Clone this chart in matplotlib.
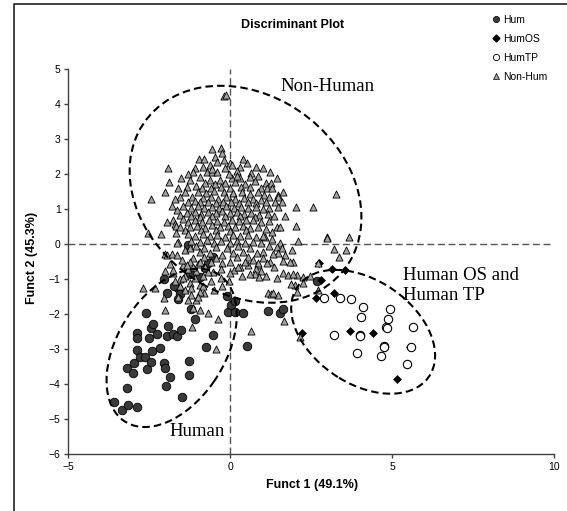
"""Discriminant plot: Hum / HumOS / HumTP / Non-Hum groups on the first two functions."""

import matplotlib.pyplot as plt
from matplotlib.lines import Line2D
from matplotlib.patches import Ellipse

plt.rcParams["font.family"] = ["Liberation Sans", "DejaVu Sans"]

# --- data (Funct 1, Funct 2) ---
hum_x = [-3.58, -3.34, -3.15, -2.89, -3.20, -3.20, -3.01, -2.98, -2.87, -2.89, -2.87, -2.61,
         -2.78, -2.62, -2.56, -2.50, -2.45, -2.39, -2.42, -2.45, -2.25, -2.17, -2.05, -1.95,
         -2.06, -2.00, -1.98, -1.86, -1.92, -1.95, -1.77, -1.64, -1.53, -1.60, -1.55, -1.60,
         -1.50, -1.30, -1.27, -1.27, -1.22, -1.10, -1.24, -0.94, -0.75, -0.78, -0.52, -0.52,
         -0.68, -0.10, -0.08, 0.03, 0.15, 0.39, 0.51, 1.15, 1.52, 1.63, 0.15, 2.68, -1.75]
hum_y = [-4.50, -4.72, -4.58, -4.64, -4.10, -3.53, -3.67, -3.38, -3.02, -2.52, -2.67, -1.97,
         -3.21, -3.21, -3.57, -2.69, -2.40, -2.28, -3.05, -3.36, -2.57, -2.96, -1.00, -1.38,
         -3.40, -3.53, -4.05, -3.78, -2.34, -2.62, -2.57, -2.62, -2.45, -1.26, -1.42, -1.56,
         -4.36, -0.03, -3.33, -3.72, -1.86, -2.12, -0.85, -0.93, -2.93, -0.69, -2.59, -0.35,
         -0.54, -1.48, -1.93, -1.73, -1.93, -1.95, -2.90, -1.91, -1.95, -1.86, -1.62, -1.05, -1.19]

humos_x = [2.73, 3.14, 3.55, 2.80, 2.64, 3.21, 2.22, 3.70, 4.41, 5.54, 5.15]
humos_y = [-0.52, -0.71, -0.73, -1.02, -1.54, -1.38, -2.52, -2.48, -2.52, -2.92, -3.86]

humtp_x = [2.88, 3.38, 3.72, 4.11, 4.04, 4.93, 4.87, 4.81, 4.83, 5.65, 3.20, 3.99, 4.01,
           4.73, 4.74, 3.91, 4.65, 5.44, 5.57]
humtp_y = [-1.53, -1.52, -1.57, -1.80, -2.08, -1.86, -2.14, -2.35, -2.38, -2.37, -2.58, -2.58,
           -2.61, -2.91, -2.94, -3.10, -3.19, -3.42, -2.92]

nonhum_x = [
    -0.19, -0.13,
    # y 2.0 - 2.8
    -0.57, -0.30, -0.97, -0.47, -0.40, -0.63, -1.91, -1.09, 0.00, 0.51, 0.30, -0.16, -1.14,
    -0.73, -0.57, -0.42, 1.02, 1.23, -0.27, 0.04, 0.20, 0.65, -0.85, -0.55,
    -0.80, -0.20, 0.40, 0.80, -1.30,
    # y 1.6 - 2.0
    -1.53, -1.88, -0.94, -0.63, -0.32, 0.04, 0.30, 0.61, 0.86, 1.43, -1.25, -0.78, -0.48,
    -0.15, 0.15, 0.45, 0.75, 1.10, -1.05, -0.60, -0.30, 0.00, 0.32, 0.62, 0.95, 1.26, -1.35,
    0.20, -0.05, -1.60,
    # y 1.2 - 1.6
    -2.02, -1.40, -1.55, -1.19, -0.88, 1.12, 1.28, 1.64, 1.48, 1.48, 1.38, -2.44, -1.00,
    -0.75, -0.50, -0.20, 0.08, 0.35, 0.60, 0.85, 1.05, -1.10, -0.85, -0.60, -0.38, -0.12,
    0.15, 0.42, 0.70, 0.95, 1.20, -1.30, -0.95, -0.70, -0.45, -0.22, 0.02, 0.28, 0.55, 0.80,
    1.10, 3.25, -1.70, 1.60,
    # y 0.8 - 1.2
    -1.81, -1.65, 1.48, 2.03, 2.56, 1.20, -1.45, -1.20, -1.00, -0.80, -0.58, -0.35, -0.12,
    0.10, 0.32, 0.55, 0.78, 1.00, -1.35, -1.10, -0.90, -0.68, -0.45, -0.25, -0.02, 0.20, 0.42,
    0.65, 0.88, 1.15, 1.35, -1.20, -0.95, -0.55, -0.15, 0.30, 0.75, -1.55, 1.70,
    # y 0.4 - 0.8
    -1.76, -1.45, -1.96, -1.71, -1.69, 2.02, 1.43, 1.53, 0.71, -1.30, -1.10, -0.88, -0.65,
    -0.42, -0.20, 0.05, 0.28, 0.50, 0.95, 1.20, -1.25, -1.02, -0.78, -0.55, -0.32, -0.08,
    0.15, 0.38, 0.62, 0.85, 1.10, -1.40, -0.90, -0.45, 0.00, 0.50, -1.55,
    # y 0.0 - 0.4
    -2.53, -2.14, -1.68, -1.60, 1.07, 1.02, 2.97, 2.09, 3.00, 3.66, -1.30, -1.10, -0.85,
    -0.62, -0.40, -0.15, 0.08, 0.30, 0.55, 0.80, 1.30, 1.53, -1.20, -0.95, -0.72, -0.50,
    -0.28, 0.00, 0.22, 0.45, 0.70, 0.95, -1.64, 1.30,
    # y -0.4 - 0.0
    -2.03, -1.96, -1.81, -1.65, -1.14, -0.94, -0.63, -0.27, 0.09, 0.40, 0.81, 1.02, 1.43,
    1.59, 1.48, 1.33, 3.20, 3.35, 3.58, -1.40, -1.25, -1.05, -0.80, -0.45, -0.10, 0.25, 0.60,
    1.20, 0.20, 0.55, -0.45, -0.80, 1.70, 1.90,
    # y -0.8 - -0.4
    -2.03, -1.76, -1.76, -1.45, 1.64, 1.94, 1.84, 1.23, 1.12, 0.86, 0.86, 0.30, -0.27, -0.78,
    -0.52, 2.71, -1.25, -1.00, -0.60, 0.00, 0.55, 0.80, 0.95, -1.30, -1.05, -0.30, 0.10,
    -1.50, -1.35, -1.15, -0.95, -0.70, 0.45, 0.70, 1.00, 1.35, 0.25, -1.85,
    # y -1.2 - -0.8
    -0.01, 1.64, 1.79, 2.05, 2.25, 2.47, 1.92, 0.76, 0.90, 2.25, 2.00, 1.88, -1.55, -1.40,
    -1.10, -0.85, -1.25, -0.95, -0.60, -1.55, -0.05, -0.30,
    -1.45, -1.70, 0.35, 0.60, 1.10, 1.45,
    # y below -1.2
    -2.70, -2.33, -2.05, -2.03, -1.19, -0.94, -1.14, -0.68, -0.43, -0.38, 0.63, 1.65, 2.16,
    2.71, 1.15, 1.26, 1.48, 1.33, 2.05, -1.40, -1.20, -1.05, -0.80, -1.60, -0.95,
    -1.20, -0.85, -0.50, -0.25, -1.00, -1.30,
]
nonhum_y = [
    4.24, 4.27,
    2.71, 2.74, 2.43, 2.49, 2.36, 2.27, 2.19, 2.17, 2.31, 2.33, 2.22, 2.17, 2.07,
    2.06, 2.06, 2.06, 2.17, 2.07, 2.60, 2.27, 2.10, 2.05, 2.20, 2.15,
    2.45, 2.40, 2.45, 2.20, 2.00,
    1.90, 1.79, 1.93, 1.84, 1.84, 1.89, 1.89, 1.93, 1.95, 1.89, 1.85, 1.75, 1.72,
    1.75, 1.78, 1.72, 1.80, 1.75, 1.68, 1.62, 1.65, 1.62, 1.63, 1.65, 1.62, 1.74, 1.65,
    1.95, 2.00, 1.60,
    1.50, 1.50, 1.36, 1.36, 1.60, 1.60, 1.60, 1.50, 1.41, 1.36, 1.22, 1.29, 1.50,
    1.48, 1.52, 1.50, 1.47, 1.50, 1.45, 1.50, 1.42, 1.25, 1.32, 1.35, 1.30, 1.35,
    1.30, 1.32, 1.30, 1.28, 1.35, 1.20, 1.20, 1.22, 1.18, 1.20, 1.22, 1.18, 1.20, 1.18,
    1.20, 1.43, 1.30, 1.20,
    1.09, 0.98, 1.06, 1.06, 1.06, 1.05, 1.10, 1.05, 1.10, 1.05, 1.08, 1.05, 1.10,
    1.05, 1.08, 1.03, 1.07, 1.00, 0.90, 0.92, 0.88, 0.92, 0.90, 0.95, 0.90, 0.93, 0.88,
    0.90, 0.85, 0.88, 0.82, 0.80, 0.78, 0.80, 0.80, 0.80, 0.78, 0.85, 0.80,
    0.69, 0.71, 0.65, 0.58, 0.52, 0.52, 0.50, 0.49, 0.69, 0.65, 0.70, 0.65, 0.70,
    0.68, 0.65, 0.70, 0.66, 0.70, 0.65, 0.68, 0.50, 0.52, 0.48, 0.55, 0.50, 0.52,
    0.50, 0.52, 0.48, 0.50, 0.45, 0.42, 0.40, 0.40, 0.38, 0.40, 0.50,
    0.31, 0.29, 0.31, 0.07, 0.22, 0.24, 0.22, 0.10, 0.19, 0.22, 0.30, 0.25, 0.30,
    0.25, 0.28, 0.22, 0.27, 0.25, 0.27, 0.22, 0.15, 0.03, 0.10, 0.08, 0.12, 0.05,
    0.10, 0.05, 0.10, 0.05, 0.08, 0.03, 0.05, 0.35,
    -0.29, -0.31, -0.28, -0.31, -0.40, -0.21, -0.26, -0.31, -0.26, -0.21, -0.26, -0.21, -0.07,
    -0.11, -0.26, -0.28, -0.14, -0.35, -0.16, -0.15, -0.10, -0.05, -0.10, -0.08, -0.10, -0.05, -0.10,
    -0.05, -0.35, -0.35, -0.38, -0.35, -0.30, -0.15,
    -0.76, -0.83, -0.73, -0.59, -0.47, -0.50, -0.50, -0.50, -0.54, -0.59, -0.54, -0.64, -0.54, -0.64,
    -0.78, -0.54, -0.50, -0.55, -0.50, -0.50, -0.60, -0.70, -0.75, -0.70, -0.75, -0.70, -0.72,
    -0.45, -0.60, -0.65, -0.50, -0.80, -0.50, -0.45, -0.40, -0.65, -0.65, -0.55,
    -0.83, -0.83, -0.88, -0.88, -0.93, -0.90, -0.86, -0.85, -0.93, -1.11, -1.16, -1.14, -1.00, -0.90,
    -0.95, -0.90, -1.10, -1.15, -1.05, -1.20, -1.05, -0.95,
    -0.95, -1.05, -0.90, -0.85, -0.90, -0.95,
    -1.24, -1.26, -1.54, -1.88, -2.35, -1.88, -1.83, -1.95, -3.00, -2.14, -2.48, -2.19, -2.64,
    -1.30, -1.38, -1.43, -1.45, -1.40, -1.35, -1.30, -1.45, -1.60, -1.40, -1.50, -1.35,
    -1.25, -1.20, -1.30, -1.20, -1.50, -1.60,
]

legend_labels = ["Hum", "HumOS", "HumTP", "Non-Hum"]

W, H = 567, 511
fig = plt.figure(figsize=(W / 100, H / 100), dpi=100)
ax = fig.add_axes([68.3 / W, 1 - 454.3 / H, (554.3 - 68.3) / W, (454.3 - 69.3) / H])

# reference lines through the origin
ax.axhline(0, color="#555555", lw=1.0, ls=(0, (5, 2.6)), zorder=1)
ax.axvline(0, color="#555555", lw=1.0, ls=(0, (5, 2.6)), zorder=1)

ax.scatter(hum_x, hum_y, s=38, marker="o", facecolor="#3a3a3a", edgecolor="black",
           linewidth=0.6, zorder=2)
ax.scatter(humos_x, humos_y, s=16, marker="D", facecolor="black", edgecolor="black",
           linewidth=0.5, zorder=3)
ax.scatter(humtp_x, humtp_y, s=36, marker="o", facecolor="white", edgecolor="black",
           linewidth=0.8, zorder=3)
ax.scatter(nonhum_x, nonhum_y, s=26, marker="^", facecolor="#a3a3a3", edgecolor="black",
           linewidth=0.6, zorder=4)

# hand-drawn group outlines
dash = (0, (3.6, 2.0))
for (cx, cy), w, h, ang in [((0.47, 1.43), 7.5, 5.78, -28),
                            ((-1.81, -2.96), 5.11, 3.24, 53),
                            ((4.10, -2.50), 4.81, 3.02, -29.5)]:
    ax.add_patch(Ellipse((cx, cy), w, h, angle=ang, fill=False, edgecolor="black",
                         lw=1.5, ls=dash, zorder=6))

serif = ["Liberation Serif", "DejaVu Serif"]
ax.text(1.54, 4.5, "Non-Human", family=serif, fontsize=13.5, va="center", zorder=7)
ax.text(5.33, -0.88, "Human OS and", family=serif, fontsize=13.5, va="center", zorder=7)
ax.text(5.33, -1.45, "Human TP", family=serif, fontsize=13.5, va="center", zorder=7)
ax.text(-1.89, -5.35, "Human", family=serif, fontsize=13.5, va="center", zorder=7)

ax.set_xlim(-5, 10)
ax.set_ylim(-6, 5)
ax.set_xticks([-5, 0, 5, 10])
ax.set_yticks(range(-6, 6))
for side in ("top", "right"):
    ax.spines[side].set_visible(False)
for side in ("left", "bottom"):
    ax.spines[side].set_color("#404040")
    ax.spines[side].set_linewidth(1.0)
ax.tick_params(direction="out", length=3, width=1, color="#404040", labelsize=7.5, pad=2.5)

fig.text(293 / W, 1 - 25 / H, "Discriminant Plot", ha="center", va="center",
         fontsize=9, fontweight="bold")
fig.text(312 / W, 1 - 485 / H, "Funct 1 (49.1%)", ha="center", va="center",
         fontsize=9, fontweight="bold")
fig.text(31.8 / W, 1 - 258 / H, "Funct 2 (45.3%)", ha="center", va="center",
         rotation=90, fontsize=9, fontweight="bold")

handles = [
    Line2D([], [], ls="none", marker="o", markersize=4.5, markerfacecolor="#3a3a3a",
           markeredgecolor="black", markeredgewidth=0.5),
    Line2D([], [], ls="none", marker="D", markersize=3.5, markerfacecolor="black",
           markeredgecolor="black"),
    Line2D([], [], ls="none", marker="o", markersize=4.5, markerfacecolor="white",
           markeredgecolor="black", markeredgewidth=0.6),
    Line2D([], [], ls="none", marker="^", markersize=4.5, markerfacecolor="#a3a3a3",
           markeredgecolor="black", markeredgewidth=0.5),
]
fig.legend(handles, legend_labels, loc="upper left", bbox_to_anchor=(491 / W, 1 - 15 / H),
           frameon=False, fontsize=7.5, handlelength=1.0, handletextpad=0.2,
           labelspacing=0.85, borderpad=0, borderaxespad=0)

# chart-area frame (left and top edges visible in the crop)
fig.add_artist(Line2D([13.7 / W, 13.7 / W, 1], [0, 1 - 4 / H, 1 - 4 / H],
                      transform=fig.transFigure, color="#222222", lw=1.2))

fig.savefig("out.png", dpi=100)
